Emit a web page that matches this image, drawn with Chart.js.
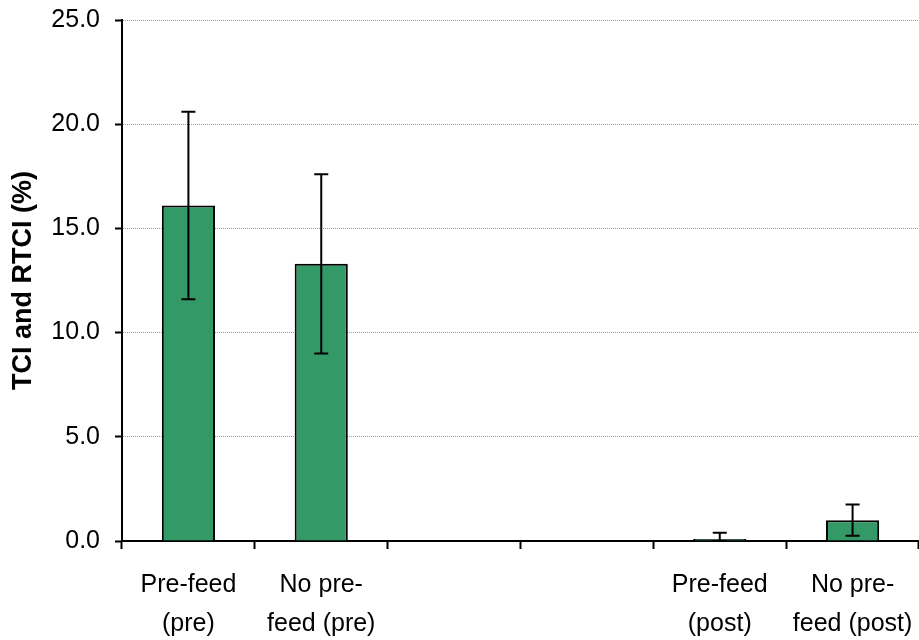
<!DOCTYPE html>
<html>
<head>
<meta charset="utf-8">
<script src="https://cdn.jsdelivr.net/npm/chart.js@4"></script>
<style>
  body { margin: 0; background: #fff; }
</style>
</head>
<body>
<canvas id="chart" width="919" height="640"></canvas>
<script>
// categories, two blank slots in the middle as in the original
const labels = [
    ['Pre-feed', '(pre)'],
    ['No pre-', 'feed (pre)'],
    '',
    '',
    ['Pre-feed', '(post)'],
    ['No pre-', 'feed (post)']
];
const values = [16.1, 13.3, null, null, 0.1, 1.0];
const errors = [4.5, 4.3, null, null, 0.3, 0.75];

// draws the +/- error bars on top of each bar
const errorBars = {
    id: 'errorBars',
    afterDatasetsDraw: (chart) => {
        let ctx = chart.ctx;
        let y = chart.scales.y;
        let meta = chart.getDatasetMeta(0);
        ctx.save();
        ctx.strokeStyle = '#000';
        ctx.lineWidth = 2;
        meta.data.forEach((bar, i) => {
            if (values[i] === null || errors[i] === null) return;
            let x = bar.x;
            let top = y.getPixelForValue(values[i] + errors[i]);
            let bottom = y.getPixelForValue(Math.max(0, values[i] - errors[i]));
            ctx.beginPath();
            ctx.moveTo(x, top);
            ctx.lineTo(x, bottom);
            ctx.moveTo(x - 7, top);
            ctx.lineTo(x + 7, top);
            ctx.moveTo(x - 7, bottom);
            ctx.lineTo(x + 7, bottom);
            ctx.stroke();
        });
        ctx.restore();
    }
};

Chart.defaults.font.family = '"Liberation Sans", Arial, sans-serif';
Chart.defaults.color = '#000';

new Chart(document.getElementById('chart'), {
    type: 'bar',
    data: {
        labels: labels,
        datasets: [{
            data: values,
            backgroundColor: '#339966',
            borderColor: '#000',
            borderWidth: 2,
            categoryPercentage: 1,
            barPercentage: 0.4
        }]
    },
    options: {
        responsive: false,
        animation: false,
        layout: {
            padding: { top: 20, right: 0, left: 7, bottom: 0 }
        },
        plugins: {
            legend: { display: false },
            tooltip: { enabled: false }
        },
        scales: {
            x: {
                afterFit: (scale) => {
                    scale.height = 99;
                    scale.paddingLeft = 0;
                    scale.paddingRight = 0;
                },
                grid: {
                    offset: true,
                    drawOnChartArea: false,
                    tickLength: 8,
                    tickColor: '#000',
                    tickWidth: 2
                },
                border: { color: '#000', width: 2 },
                ticks: {
                    maxRotation: 0,
                    autoSkip: false,
                    padding: 17,
                    font: { size: 25, lineHeight: 1.56 }
                }
            },
            y: {
                min: 0,
                max: 25,
                afterFit: (scale) => {
                    scale.width = 115;
                    scale.paddingTop = 0;
                    scale.paddingBottom = 0;
                },
                ticks: {
                    stepSize: 5,
                    padding: 15,
                    font: { size: 25 },
                    callback: (v) => v.toFixed(1)
                },
                grid: {
                    color: '#999',
                    tickColor: '#000',
                    tickWidth: 2,
                    tickLength: 7
                },
                border: { color: '#000', width: 2, dash: [1, 1] },
                title: {
                    display: true,
                    text: 'TCI and RTCI (%)',
                    font: { size: 27, weight: 'bold' },
                    padding: { top: 0, bottom: 0 }
                }
            }
        }
    },
    plugins: [errorBars]
});
</script>
</body>
</html>
